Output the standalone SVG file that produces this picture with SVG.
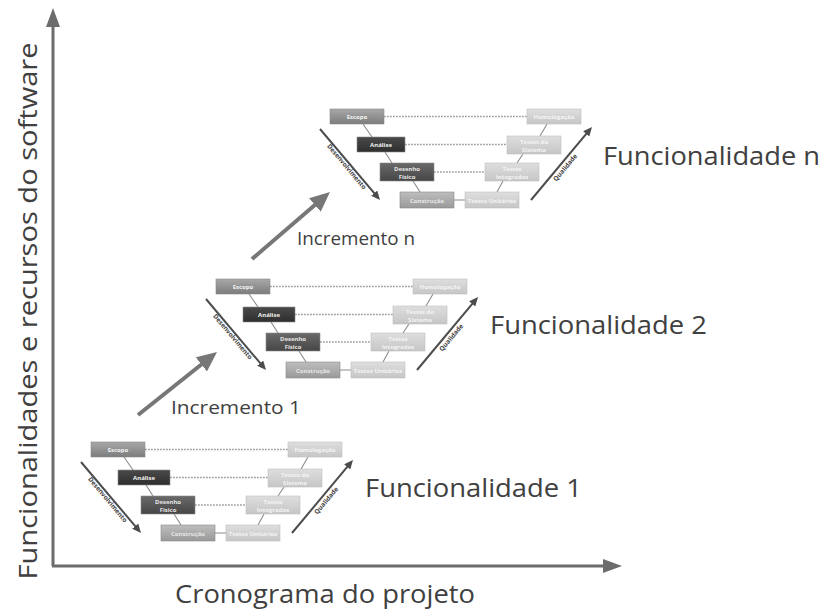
<svg xmlns="http://www.w3.org/2000/svg" width="826" height="610" viewBox="0 0 826 610">
<defs>
<style>
.lbl{font-family:"Open Sans","Noto Sans","DejaVu Sans",sans-serif;fill:#404040}
.bt{font-family:"Open Sans","Noto Sans","DejaVu Sans",sans-serif;font-size:6px;font-weight:bold;text-anchor:middle}
.wt{fill:#f2f2f2}
.ft{fill:#e6e6e6}
.rt{fill:#f4f4f4}
.box{stroke:#8a8a8a;stroke-width:0.6}
.rbox{stroke:#c0c0c0;stroke-width:0.6}
.dash{stroke:#a0a0a0;stroke-width:1.6;stroke-dasharray:1.8 1.2;fill:none}
.link{stroke:#8c8c8c;stroke-width:1.1;fill:none}
.varrow{stroke:#4c4c4c;stroke-width:2;fill:none;marker-end:url(#small)}
.incr{stroke:#777;stroke-width:4;fill:none;marker-end:url(#big)}
.axis{stroke:#6c6c6c;stroke-width:3;fill:none;marker-end:url(#axh)}
.al{font-family:"Open Sans","Noto Sans","DejaVu Sans",sans-serif;font-size:6.5px;font-weight:bold;fill:#444;text-anchor:middle}
</style>
<linearGradient id="gEsc" x1="0" y1="0" x2="0" y2="1"><stop offset="0" stop-color="#a8a8a8"/><stop offset="1" stop-color="#7c7c7c"/></linearGradient>
<linearGradient id="gAna" x1="0" y1="0" x2="0" y2="1"><stop offset="0" stop-color="#4a4a4a"/><stop offset="1" stop-color="#2e2e2e"/></linearGradient>
<linearGradient id="gDes" x1="0" y1="0" x2="0" y2="1"><stop offset="0" stop-color="#6a6a6a"/><stop offset="1" stop-color="#464646"/></linearGradient>
<linearGradient id="gCon" x1="0" y1="0" x2="0" y2="1"><stop offset="0" stop-color="#bdbdbd"/><stop offset="1" stop-color="#9a9a9a"/></linearGradient>
<linearGradient id="gRt" x1="0" y1="0" x2="0" y2="1"><stop offset="0" stop-color="#dedede"/><stop offset="1" stop-color="#c6c6c6"/></linearGradient>
<marker id="small" markerUnits="userSpaceOnUse" markerWidth="9" markerHeight="8" refX="2" refY="4" orient="auto"><path d="M0,0 L9,4 L0,8 z" fill="#4c4c4c"/></marker>
<marker id="big" markerUnits="userSpaceOnUse" markerWidth="20" markerHeight="18" refX="10" refY="9" orient="auto"><path d="M0,0 L20,9 L0,18 z" fill="#777"/></marker>
<marker id="axh" markerUnits="userSpaceOnUse" markerWidth="19" markerHeight="14" refX="9" refY="7" orient="auto"><path d="M0,0 L19,7 L0,14 z" fill="#6c6c6c"/></marker>
</defs>
<rect width="826" height="610" fill="#fff"/>

<g id="connectors">
  <path class="axis" d="M53,566 V18"/>
  <path class="axis" d="M52,566 H612"/>
  <path class="incr" d="M138,415 L209.2,358.2"/>
  <path class="incr" d="M252,259 L322.4,198.5"/>
  <g transform="translate(91,442)">
    <path class="dash" d="M54,7.5 H197 M79,35.5 H177 M104,63 H155"/>
    <path class="link" d="M124,91 H135 M33,15 L42,28 M55,43 L62,54 M83,72 L90,83 M217,15 L210,27 M193,45 L187,54 M173,72 L167,83"/>
    <path class="varrow" d="M-10,20 L45.5,85.7"/>
    <path class="varrow" d="M201,91 L257.5,23.4"/>
    <text class="al" transform="translate(15,59) rotate(50)">Desenvolvimento</text>
    <text class="al" transform="translate(237,60) rotate(-50)">Qualidade</text>
  </g>
  <g transform="translate(216,279)">
    <path class="dash" d="M54,7.5 H197 M79,35.5 H177 M104,63 H155"/>
    <path class="link" d="M124,91 H135 M33,15 L42,28 M55,43 L62,54 M83,72 L90,83 M217,15 L210,27 M193,45 L187,54 M173,72 L167,83"/>
    <path class="varrow" d="M-10,20 L45.5,85.7"/>
    <path class="varrow" d="M201,91 L257.5,23.4"/>
    <text class="al" transform="translate(15,59) rotate(50)">Desenvolvimento</text>
    <text class="al" transform="translate(237,60) rotate(-50)">Qualidade</text>
  </g>
  <g transform="translate(330,109)">
    <path class="dash" d="M54,7.5 H197 M75,35.5 H177 M104,63 H155"/>
    <path class="link" d="M124,91 H135 M33,15 L42,28 M55,43 L62,54 M83,72 L90,83 M217,15 L210,27 M193,45 L187,54 M173,72 L167,83"/>
    <path class="varrow" d="M-10,20 L45.5,85.7"/>
    <path class="varrow" d="M201,91 L257.5,23.4"/>
    <text class="al" transform="translate(15,59) rotate(50)">Desenvolvimento</text>
    <text class="al" transform="translate(237,60) rotate(-50)">Qualidade</text>
  </g>
</g>

<g id="v1" transform="translate(91,442)">
  <g id="v1-escopo"><rect class="box" x="0" y="0" width="54" height="15" fill="url(#gEsc)"/><text class="bt wt" x="27" y="10">Escopo</text></g>
  <g id="v1-analise"><rect class="box" x="27" y="28" width="52" height="15" fill="url(#gAna)"/><text class="bt wt" x="53" y="38">Análise</text></g>
  <g id="v1-desenho"><rect class="box" x="50" y="54" width="54" height="18" fill="url(#gDes)"/><text class="bt ft" x="77" y="61.5">Desenho</text><text class="bt ft" x="77" y="69.5">Físico</text></g>
  <g id="v1-construcao"><rect class="box" x="70" y="83" width="54" height="16" fill="url(#gCon)"/><text class="bt ft" x="97" y="93.5">Construção</text></g>
  <g id="v1-unitarios"><rect class="rbox" x="135" y="83" width="54" height="16" fill="url(#gRt)"/><text class="bt rt" x="162" y="93.5">Testes Unitários</text></g>
  <g id="v1-integrados"><rect class="rbox" x="155" y="54" width="54" height="18" fill="url(#gRt)"/><text class="bt rt" x="182" y="61.5">Testes</text><text class="bt rt" x="182" y="69.5">Integrados</text></g>
  <g id="v1-sistema"><rect class="rbox" x="177" y="27" width="54" height="18" fill="url(#gRt)"/><text class="bt rt" x="204" y="34.5">Testes do</text><text class="bt rt" x="204" y="42.5">Sistema</text></g>
  <g id="v1-homologacao"><rect class="rbox" x="197" y="0" width="54" height="15" fill="url(#gRt)"/><text class="bt rt" x="224" y="10">Homologação</text></g>
</g>

<g id="v2" transform="translate(216,279)">
  <g id="v2-escopo"><rect class="box" x="0" y="0" width="54" height="15" fill="url(#gEsc)"/><text class="bt wt" x="27" y="10">Escopo</text></g>
  <g id="v2-analise"><rect class="box" x="27" y="28" width="52" height="15" fill="url(#gAna)"/><text class="bt wt" x="53" y="38">Análise</text></g>
  <g id="v2-desenho"><rect class="box" x="50" y="54" width="54" height="18" fill="url(#gDes)"/><text class="bt ft" x="77" y="61.5">Desenho</text><text class="bt ft" x="77" y="69.5">Físico</text></g>
  <g id="v2-construcao"><rect class="box" x="70" y="83" width="54" height="16" fill="url(#gCon)"/><text class="bt ft" x="97" y="93.5">Construção</text></g>
  <g id="v2-unitarios"><rect class="rbox" x="135" y="83" width="54" height="16" fill="url(#gRt)"/><text class="bt rt" x="162" y="93.5">Testes Unitários</text></g>
  <g id="v2-integrados"><rect class="rbox" x="155" y="54" width="54" height="18" fill="url(#gRt)"/><text class="bt rt" x="182" y="61.5">Testes</text><text class="bt rt" x="182" y="69.5">Integrados</text></g>
  <g id="v2-sistema"><rect class="rbox" x="177" y="27" width="54" height="18" fill="url(#gRt)"/><text class="bt rt" x="204" y="34.5">Testes do</text><text class="bt rt" x="204" y="42.5">Sistema</text></g>
  <g id="v2-homologacao"><rect class="rbox" x="197" y="0" width="54" height="15" fill="url(#gRt)"/><text class="bt rt" x="224" y="10">Homologação</text></g>
</g>

<g id="vn" transform="translate(330,109)">
  <g id="vn-escopo"><rect class="box" x="0" y="0" width="54" height="15" fill="url(#gEsc)"/><text class="bt wt" x="27" y="10">Escopo</text></g>
  <g id="vn-analise"><rect class="box" x="27" y="28" width="48" height="15" fill="url(#gAna)"/><text class="bt wt" x="51" y="38">Análise</text></g>
  <g id="vn-desenho"><rect class="box" x="50" y="54" width="54" height="18" fill="url(#gDes)"/><text class="bt ft" x="77" y="61.5">Desenho</text><text class="bt ft" x="77" y="69.5">Físico</text></g>
  <g id="vn-construcao"><rect class="box" x="70" y="83" width="54" height="16" fill="url(#gCon)"/><text class="bt ft" x="97" y="93.5">Construção</text></g>
  <g id="vn-unitarios"><rect class="rbox" x="135" y="83" width="54" height="16" fill="url(#gRt)"/><text class="bt rt" x="162" y="93.5">Testes Unitários</text></g>
  <g id="vn-integrados"><rect class="rbox" x="155" y="54" width="54" height="18" fill="url(#gRt)"/><text class="bt rt" x="182" y="61.5">Testes</text><text class="bt rt" x="182" y="69.5">Integrados</text></g>
  <g id="vn-sistema"><rect class="rbox" x="177" y="27" width="54" height="18" fill="url(#gRt)"/><text class="bt rt" x="204" y="34.5">Testes do</text><text class="bt rt" x="204" y="42.5">Sistema</text></g>
  <g id="vn-homologacao"><rect class="rbox" x="197" y="0" width="54" height="15" fill="url(#gRt)"/><text class="bt rt" x="224" y="10">Homologação</text></g>
</g>

<g id="labels">
  <text class="lbl" font-size="26" transform="translate(37,311) rotate(-90)" text-anchor="middle" textLength="537" lengthAdjust="spacingAndGlyphs">Funcionalidades e recursos do software</text>
  <text class="lbl" font-size="26" x="175" y="603" textLength="300" lengthAdjust="spacingAndGlyphs">Cronograma do projeto</text>
  <text class="lbl" font-size="26" x="603" y="165" textLength="217" lengthAdjust="spacingAndGlyphs">Funcionalidade n</text>
  <text class="lbl" font-size="26" x="490" y="334" textLength="217" lengthAdjust="spacingAndGlyphs">Funcionalidade 2</text>
  <text class="lbl" font-size="26" x="365" y="497" textLength="217" lengthAdjust="spacingAndGlyphs">Funcionalidade 1</text>
  <text class="lbl" font-size="19" x="297" y="245" textLength="118" lengthAdjust="spacingAndGlyphs">Incremento n</text>
  <text class="lbl" font-size="19" x="171" y="414" textLength="130" lengthAdjust="spacingAndGlyphs">Incremento 1</text>
</g>
</svg>
